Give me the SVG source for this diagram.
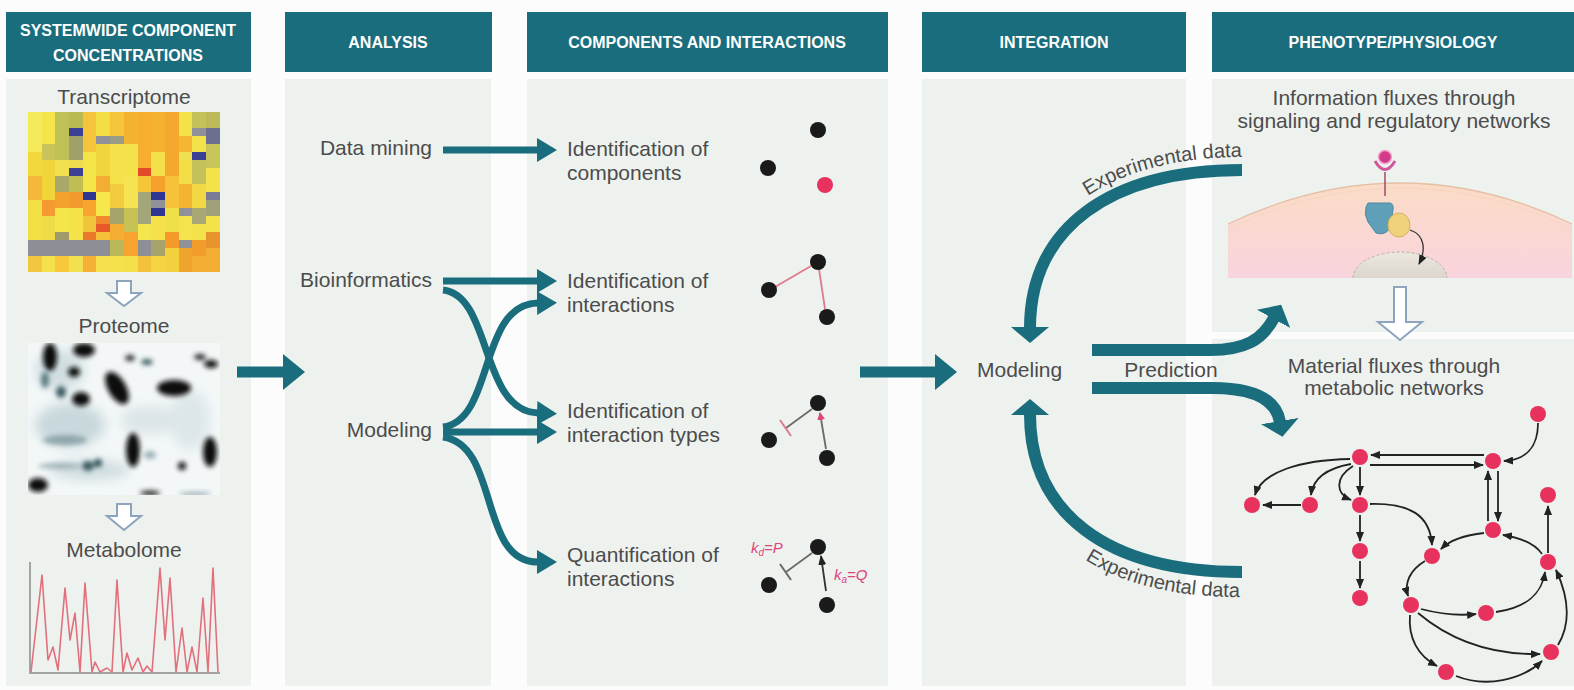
<svg xmlns="http://www.w3.org/2000/svg" width="1574" height="690" viewBox="0 0 1574 690">
<style>
.hdr{fill:#1a6d7c}
.ht{font-family:"Liberation Sans",Arial,sans-serif;font-weight:bold;font-size:16px;fill:#ffffff;text-anchor:middle}
.t{font-family:"Liberation Sans",Arial,sans-serif;font-size:21px;fill:#4c4c4c}
.tm{text-anchor:middle}
.te{text-anchor:end}
.panel{fill:#eef2ef}
.ta{fill:none;stroke:#1a6d7c;stroke-width:7;marker-end:url(#hMid)}
.tb{fill:none;stroke:#1a6d7c;stroke-width:11;marker-end:url(#hBig)}
.tc{fill:none;stroke:#1a6d7c;stroke-width:12;marker-end:url(#hArc)}
.dot{fill:#1a1a1a}
.nd{fill:#e8325e}
.ne{fill:none;stroke:#222;stroke-width:1.8;marker-end:url(#hBlk)}
.hollow{fill:#ffffff;stroke:#8ea3bd;stroke-width:2}
.pk{font-family:"Liberation Sans",Arial,sans-serif;font-size:15px;fill:#e0457a;font-style:italic}
</style>
<defs>
<marker id="hBig" viewBox="0 0 22 36" markerWidth="22" markerHeight="36" refX="1" refY="18" orient="auto" markerUnits="userSpaceOnUse"><path d="M0,0 L22,18 L0,36 Z" fill="#1a6d7c"/></marker>
<marker id="hMid" viewBox="0 0 20 24" markerWidth="20" markerHeight="24" refX="1" refY="12" orient="auto" markerUnits="userSpaceOnUse"><path d="M0,0 L20,12 L0,24 Z" fill="#1a6d7c"/></marker>
<marker id="hArc" viewBox="0 0 16 38" markerWidth="16" markerHeight="38" refX="1" refY="19" orient="auto" markerUnits="userSpaceOnUse"><path d="M0,0 L16,19 L0,38 Z" fill="#1a6d7c"/></marker>
<marker id="hBlk" viewBox="0 0 10 8" markerWidth="10" markerHeight="8" refX="9" refY="4" orient="auto" markerUnits="userSpaceOnUse"><path d="M0,0 L10,4 L0,8 Z" fill="#222"/></marker>
<marker id="hPink" viewBox="0 0 8 8" markerWidth="8" markerHeight="8" refX="7" refY="4" orient="auto" markerUnits="userSpaceOnUse"><path d="M0,0 L8,4 L0,8 Z" fill="#e0457a"/></marker>
<linearGradient id="cellg" x1="0" y1="0" x2="0" y2="1"><stop offset="0" stop-color="#fbdcc6"/><stop offset="1" stop-color="#f9d4dd"/></linearGradient>
<linearGradient id="nucg" x1="0" y1="0" x2="0" y2="1"><stop offset="0" stop-color="#ece8e0"/><stop offset="1" stop-color="#dcd6cc"/></linearGradient>
<filter id="blur" x="-20%" y="-20%" width="140%" height="140%"><feGaussianBlur stdDeviation="2.4"/></filter>
<filter id="haze" x="-20%" y="-20%" width="140%" height="140%"><feGaussianBlur stdDeviation="6"/></filter>
<clipPath id="protClip"><rect x="28" y="343" width="192" height="152"/></clipPath>
<path id="ed1" d="M1016,330 C1016,222 1105,157 1242,157"/>
<path id="ed2" d="M1012,415 C1012,530 1092,597 1240,597"/>
</defs>

<rect width="1574" height="690" fill="#fbfcfb"/>

<g id="panels">
<rect class="panel" x="6" y="79" width="245" height="607"/>
<rect class="panel" x="285" y="79" width="206" height="607"/>
<rect class="panel" x="527" y="79" width="361" height="607"/>
<rect class="panel" x="922" y="79" width="264" height="607"/>
<rect class="panel" x="1212" y="79" width="362" height="253"/>
<rect class="panel" x="1212" y="339" width="362" height="347"/>
</g>

<g id="headers">
<g id="hdr-systemwide"><rect class="hdr" x="6" y="12" width="245" height="60"/><text class="ht" x="128" y="36">SYSTEMWIDE COMPONENT</text><text class="ht" x="128" y="61">CONCENTRATIONS</text></g>
<g id="hdr-analysis"><rect class="hdr" x="285" y="12" width="207" height="60"/><text class="ht" x="388" y="48">ANALYSIS</text></g>
<g id="hdr-components"><rect class="hdr" x="527" y="12" width="361" height="60"/><text class="ht" x="707" y="48">COMPONENTS AND INTERACTIONS</text></g>
<g id="hdr-integration"><rect class="hdr" x="922" y="12" width="264" height="60"/><text class="ht" x="1054" y="48">INTEGRATION</text></g>
<g id="hdr-phenotype"><rect class="hdr" x="1212" y="12" width="362" height="60"/><text class="ht" x="1393" y="48">PHENOTYPE/PHYSIOLOGY</text></g>
</g>

<g id="transcriptome">
<text class="t tm" x="124" y="104">Transcriptome</text>
<rect x="28" y="112" width="192" height="160" fill="#f4e246"/>
<g shape-rendering="crispEdges">
<rect x="28" y="112" width="14" height="40" fill="#f5ea5a"/><rect x="28" y="152" width="14" height="24" fill="#f2d83a"/><rect x="28" y="176" width="14" height="24" fill="#f5b83a"/><rect x="28" y="200" width="14" height="40" fill="#f3e045"/><rect x="28" y="240" width="14" height="16" fill="#8e8f96"/><rect x="28" y="256" width="14" height="16" fill="#f1c640"/>
<rect x="42" y="112" width="14" height="32" fill="#f4e64a"/><rect x="42" y="144" width="14" height="16" fill="#c9c45a"/><rect x="42" y="160" width="14" height="40" fill="#f0d53a"/><rect x="42" y="200" width="14" height="16" fill="#f59a30"/><rect x="42" y="216" width="14" height="24" fill="#eedb48"/><rect x="42" y="240" width="14" height="16" fill="#8e8f96"/><rect x="42" y="256" width="14" height="16" fill="#f4e04a"/>
<rect x="55" y="112" width="14" height="48" fill="#bfc055"/><rect x="55" y="160" width="14" height="16" fill="#f2e050"/><rect x="55" y="176" width="14" height="16" fill="#a8a86a"/><rect x="55" y="192" width="14" height="16" fill="#f3a22e"/><rect x="55" y="208" width="14" height="24" fill="#f4e64a"/><rect x="55" y="232" width="14" height="8" fill="#9e9a6a"/><rect x="55" y="240" width="14" height="16" fill="#8e8f96"/><rect x="55" y="256" width="14" height="16" fill="#f7c93a"/>
<rect x="69" y="112" width="14" height="16" fill="#b9bb52"/><rect x="69" y="128" width="14" height="8" fill="#3c4094"/><rect x="69" y="136" width="14" height="24" fill="#9fa06a"/><rect x="69" y="160" width="14" height="8" fill="#eddc50"/><rect x="69" y="168" width="14" height="8" fill="#3c4094"/><rect x="69" y="176" width="14" height="16" fill="#c0bd55"/><rect x="69" y="192" width="14" height="16" fill="#f29a2b"/><rect x="69" y="208" width="14" height="32" fill="#f5e24b"/><rect x="69" y="240" width="14" height="16" fill="#8e8f96"/><rect x="69" y="256" width="14" height="16" fill="#f2e050"/>
<rect x="83" y="112" width="14" height="40" fill="#f6c43a"/><rect x="83" y="152" width="14" height="40" fill="#f3e547"/><rect x="83" y="192" width="14" height="8" fill="#2f3590"/><rect x="83" y="200" width="14" height="16" fill="#f7a52e"/><rect x="83" y="216" width="14" height="16" fill="#f0c43b"/><rect x="83" y="232" width="14" height="8" fill="#e97a2b"/><rect x="83" y="240" width="14" height="16" fill="#8e8f96"/><rect x="83" y="256" width="14" height="16" fill="#f5b035"/>
<rect x="96" y="112" width="14" height="24" fill="#f4de45"/><rect x="96" y="136" width="14" height="8" fill="#8f9098"/><rect x="96" y="144" width="14" height="32" fill="#f1d53e"/><rect x="96" y="176" width="14" height="16" fill="#f4ad33"/><rect x="96" y="192" width="14" height="24" fill="#f6e84c"/><rect x="96" y="216" width="14" height="8" fill="#f08a2c"/><rect x="96" y="224" width="14" height="8" fill="#e8572a"/><rect x="96" y="232" width="14" height="8" fill="#f5c03a"/><rect x="96" y="240" width="14" height="16" fill="#8e8f96"/><rect x="96" y="256" width="14" height="16" fill="#f6e050"/>
<rect x="110" y="112" width="14" height="24" fill="#f7c53c"/><rect x="110" y="136" width="14" height="8" fill="#9a9c86"/><rect x="110" y="144" width="14" height="40" fill="#f5e24a"/><rect x="110" y="184" width="14" height="24" fill="#f3cb3e"/><rect x="110" y="208" width="14" height="16" fill="#a6a36b"/><rect x="110" y="224" width="14" height="16" fill="#f4ad33"/><rect x="110" y="240" width="14" height="16" fill="#bbb85a"/><rect x="110" y="256" width="14" height="16" fill="#f5e24a"/>
<rect x="124" y="112" width="14" height="32" fill="#f4b233"/><rect x="124" y="144" width="14" height="32" fill="#f3e24a"/><rect x="124" y="176" width="14" height="32" fill="#f5e352"/><rect x="124" y="208" width="14" height="24" fill="#c6c256"/><rect x="124" y="232" width="14" height="24" fill="#f6a330"/><rect x="124" y="256" width="14" height="16" fill="#f3e04a"/>
<rect x="138" y="112" width="14" height="56" fill="#f7ae30"/><rect x="138" y="168" width="14" height="8" fill="#e34b28"/><rect x="138" y="176" width="14" height="16" fill="#f5c53a"/><rect x="138" y="192" width="14" height="32" fill="#a3a57a"/><rect x="138" y="224" width="14" height="16" fill="#f5e64d"/><rect x="138" y="240" width="14" height="16" fill="#8e8f96"/><rect x="138" y="256" width="14" height="16" fill="#f1c23a"/>
<rect x="151" y="112" width="14" height="40" fill="#f6b131"/><rect x="151" y="152" width="14" height="24" fill="#f3e04b"/><rect x="151" y="176" width="14" height="16" fill="#f6a02d"/><rect x="151" y="192" width="14" height="8" fill="#2f3590"/><rect x="151" y="200" width="14" height="8" fill="#8f9098"/><rect x="151" y="208" width="14" height="8" fill="#2f3590"/><rect x="151" y="216" width="14" height="24" fill="#f5e24a"/><rect x="151" y="240" width="14" height="16" fill="#a6a36b"/><rect x="151" y="256" width="14" height="16" fill="#f4d443"/>
<rect x="165" y="112" width="14" height="64" fill="#f4a82d"/><rect x="165" y="176" width="14" height="32" fill="#f5c23a"/><rect x="165" y="208" width="14" height="24" fill="#efe04a"/><rect x="165" y="232" width="14" height="16" fill="#f39a2b"/><rect x="165" y="248" width="14" height="24" fill="#f2d03e"/>
<rect x="179" y="112" width="14" height="24" fill="#f4e24b"/><rect x="179" y="136" width="14" height="16" fill="#f6b634"/><rect x="179" y="152" width="14" height="8" fill="#efe052"/><rect x="179" y="160" width="14" height="24" fill="#f3dd47"/><rect x="179" y="184" width="14" height="24" fill="#f5b334"/><rect x="179" y="208" width="14" height="8" fill="#8f9098"/><rect x="179" y="216" width="14" height="24" fill="#f4e34c"/><rect x="179" y="240" width="14" height="8" fill="#8f9098"/><rect x="179" y="248" width="14" height="24" fill="#f0a42e"/>
<rect x="192" y="112" width="14" height="16" fill="#c4c05a"/><rect x="192" y="128" width="14" height="8" fill="#8f9098"/><rect x="192" y="136" width="14" height="16" fill="#f4e24b"/><rect x="192" y="152" width="14" height="8" fill="#3c4094"/><rect x="192" y="160" width="14" height="24" fill="#c4c05a"/><rect x="192" y="184" width="14" height="24" fill="#f2d843"/><rect x="192" y="208" width="14" height="16" fill="#a8a775"/><rect x="192" y="224" width="14" height="16" fill="#f3e24a"/><rect x="192" y="240" width="14" height="16" fill="#f29c2c"/><rect x="192" y="256" width="14" height="16" fill="#f4ad33"/>
<rect x="206" y="112" width="14" height="16" fill="#bdb957"/><rect x="206" y="128" width="14" height="16" fill="#6d6f8f"/><rect x="206" y="144" width="14" height="24" fill="#c7c45a"/><rect x="206" y="168" width="14" height="24" fill="#f3e34b"/><rect x="206" y="192" width="14" height="8" fill="#7a7b94"/><rect x="206" y="200" width="14" height="16" fill="#9fa17a"/><rect x="206" y="216" width="14" height="16" fill="#f4e24b"/><rect x="206" y="232" width="14" height="16" fill="#e7922d"/><rect x="206" y="248" width="14" height="24" fill="#f4ad33"/>
</g>
<path class="hollow" d="M117,281 H131 V293 H141 L124,306 L107,293 H117 Z"/>
</g>

<g id="proteome">
<text class="t tm" x="124" y="333">Proteome</text>
<rect x="28" y="343" width="192" height="152" fill="#f3f7f8"/>
<g clip-path="url(#protClip)">
<g filter="url(#haze)">
<ellipse cx="70" cy="425" rx="35" ry="22" fill="#c9d8dc"/>
<ellipse cx="150" cy="420" rx="30" ry="14" fill="#dbe5e8"/>
<ellipse cx="90" cy="470" rx="40" ry="10" fill="#cfdde0"/>
<ellipse cx="190" cy="420" rx="20" ry="30" fill="#dde7ea"/>
<ellipse cx="60" cy="370" rx="25" ry="20" fill="#d2dfe2"/>
</g>
<g filter="url(#blur)">
<ellipse cx="65" cy="440" rx="22" ry="5" fill="#8ea6ab"/>
<ellipse cx="60" cy="466" rx="22" ry="3" fill="#a0b4b8"/>
<ellipse cx="150" cy="455" rx="6" ry="4" fill="#9ab0b4"/>
<ellipse cx="195" cy="494" rx="16" ry="2" fill="#98aab0"/>
<ellipse cx="45" cy="380" rx="4" ry="8" fill="#5a7a80"/>
<ellipse cx="61" cy="392" rx="5" ry="6" fill="#3a5a60"/>
<ellipse cx="88" cy="466" rx="6" ry="5" fill="#3a5a60"/>
<ellipse cx="98" cy="463" rx="4" ry="4" fill="#2a4a50"/>
<ellipse cx="147" cy="362" rx="6" ry="3" fill="#3a5a60"/>
<ellipse cx="50" cy="357" rx="7" ry="14" fill="#111"/>
<ellipse cx="84" cy="350" rx="11" ry="7" fill="#111"/>
<ellipse cx="74" cy="372" rx="6" ry="5" fill="#111"/>
<ellipse cx="81" cy="399" rx="9" ry="7" fill="#111"/>
<ellipse cx="117" cy="388" rx="9" ry="18" transform="rotate(-30 117 388)" fill="#111"/>
<ellipse cx="130" cy="358" rx="5" ry="3" fill="#222"/>
<ellipse cx="174" cy="388" rx="17" ry="8" fill="#111"/>
<ellipse cx="200" cy="357" rx="6" ry="3" fill="#222"/>
<ellipse cx="211" cy="364" rx="7" ry="4" fill="#111"/>
<ellipse cx="133" cy="450" rx="7" ry="17" fill="#111"/>
<ellipse cx="210" cy="452" rx="7" ry="15" fill="#111"/>
<ellipse cx="182" cy="466" rx="4" ry="4" fill="#111"/>
<ellipse cx="38" cy="485" rx="10" ry="7" fill="#111"/>
<ellipse cx="150" cy="493" rx="10" ry="2.5" fill="#222"/>
</g>
</g>
<path class="hollow" d="M117,504 H131 V516 H141 L124,530 L107,516 H117 Z"/>
</g>

<g id="metabolome">
<text class="t tm" x="124" y="557">Metabolome</text>
<path d="M30,562 V673 H220" fill="none" stroke="#8a8a8a" stroke-width="1.5"/>
<polyline fill="none" stroke="#e2707c" stroke-width="1.6" stroke-linejoin="round" points="31,672 42,575 48,660 53,647 58,670 65,588 70,640 75,613 80,672 85,583 92,672 95,662 100,672 107,668 112,672 117,580 123,672 127,653 132,670 138,658 143,672 147,666 152,672 160,568 165,640 170,578 176,672 182,628 187,672 192,647 197,672 203,598 208,672 213,568 218,672"/>
</g>

<g id="analysis">
<g id="a-datamining"><text class="t te" x="432" y="155">Data mining</text></g>
<g id="a-bioinformatics"><text class="t te" x="432" y="287">Bioinformatics</text></g>
<g id="a-modeling"><text class="t te" x="432" y="437">Modeling</text></g>
</g>

<g id="components">
<g id="c-components">
<text class="t" x="567" y="156">Identification of</text><text class="t" x="567" y="180">components</text>
<circle class="dot" cx="818" cy="130" r="8"/><circle class="dot" cx="768" cy="168" r="8"/><circle class="nd" cx="825" cy="185" r="8"/>
</g>
<g id="c-interactions">
<text class="t" x="567" y="288">Identification of</text><text class="t" x="567" y="312">interactions</text>
<line x1="775" y1="287" x2="811" y2="266" stroke="#e07a8a" stroke-width="1.8"/>
<line x1="819" y1="269" x2="825" y2="309" stroke="#e07a8a" stroke-width="1.8"/>
<circle class="dot" cx="818" cy="262" r="8"/><circle class="dot" cx="769" cy="290" r="8"/><circle class="dot" cx="827" cy="317" r="8"/>
</g>
<g id="c-types">
<text class="t" x="567" y="418">Identification of</text><text class="t" x="567" y="442">interaction types</text>
<line x1="812" y1="409" x2="786" y2="428" stroke="#6a6a6a" stroke-width="1.8"/>
<line x1="780" y1="420" x2="791" y2="436" stroke="#e07a8a" stroke-width="2"/>
<line x1="826" y1="449" x2="820" y2="413" stroke="#6a6a6a" stroke-width="1.8" marker-end="url(#hPink)"/>
<circle class="dot" cx="818" cy="403" r="8"/><circle class="dot" cx="769" cy="440" r="8"/><circle class="dot" cx="827" cy="458" r="8"/>
</g>
<g id="c-quant">
<text class="t" x="567" y="562">Quantification of</text><text class="t" x="567" y="586">interactions</text>
<line x1="812" y1="553" x2="786" y2="572" stroke="#6a6a6a" stroke-width="1.8"/>
<line x1="780" y1="564" x2="791" y2="580" stroke="#6a6a6a" stroke-width="2"/>
<line x1="826" y1="591" x2="821" y2="556" stroke="#333" stroke-width="1.8" marker-end="url(#hBlk)"/>
<text class="pk" x="751" y="553">k<tspan font-size="10" dy="3">d</tspan><tspan dy="-3">=P</tspan></text>
<text class="pk" x="834" y="580">k<tspan font-size="10" dy="3">a</tspan><tspan dy="-3">=Q</tspan></text>
<circle class="dot" cx="818" cy="547" r="8"/><circle class="dot" cx="769" cy="585" r="8"/><circle class="dot" cx="827" cy="605" r="8"/>
</g>
</g>

<g id="integration">
<g id="i-modeling"><text class="t" x="977" y="377">Modeling</text></g>
</g>

<g id="phenotype">
<g id="p-information">
<text class="t tm" x="1394" y="105">Information fluxes through</text>
<text class="t tm" x="1394" y="128">signaling and regulatory networks</text>
<path d="M1228,278 V224 Q1400,142 1572,224 V278 Z" fill="url(#cellg)"/>
<path d="M1228,224 Q1400,142 1572,224" fill="none" stroke="#e6c0a6" stroke-width="1.3"/>
<path d="M1228,229 Q1400,147 1572,229" fill="none" stroke="#f6d6c2" stroke-width="1"/>
<path d="M1353,278 A47,26 0 0 1 1447,278 Z" fill="url(#nucg)"/>
<path d="M1353,278 A47,26 0 0 1 1447,278" fill="none" stroke="#b8b2a8" stroke-width="1" stroke-dasharray="3 2"/>
<line x1="1385" y1="172" x2="1385" y2="196" stroke="#a04a68" stroke-width="1.5"/>
<path d="M1375,161 Q1385,178 1395,161" fill="none" stroke="#d0589a" stroke-width="3"/>
<circle cx="1385" cy="157" r="6.5" fill="#d23a8a" stroke="#f0a0c8" stroke-width="1.5"/>
<path d="M1368,203 L1390,203 Q1394,204 1393,210 L1390,228 Q1385,236 1376,233 L1368,222 Q1364,215 1366,207 Z" fill="#5f9fb8" stroke="#4a8aa5" stroke-width="1"/>
<ellipse cx="1399" cy="225" rx="11" ry="12" fill="#f0d27c" stroke="#d4b25a" stroke-width="1"/>
<path d="M1410,230 C1425,235 1426,250 1419,264" fill="none" stroke="#333" stroke-width="1.3" marker-end="url(#hBlk)"/>
<path class="hollow" d="M1394,287 H1406 V322 H1422 L1400,340 L1378,322 H1394 Z"/>
</g>
<g id="p-material">
<text class="t tm" x="1394" y="373">Material fluxes through</text>
<text class="t tm" x="1394" y="395">metabolic networks</text>
</g>
</g>

<g id="connectors">
<path class="tb" d="M237,372 H284"/>
<path class="tb" d="M860,372 H936"/>
<path class="ta" d="M443,150 L538,150"/>
<path class="ta" d="M443,281 L538,281"/>
<path class="ta" d="M443,290 C492,295 480,411 538,413"/>
<path class="ta" d="M443,427 C495,420 478,304 538,303"/>
<path class="ta" d="M443,432 L538,432"/>
<path class="ta" d="M443,437 C500,445 478,562 538,562"/>
<path class="tc" d="M1242,170 C1110,170 1030,228 1030,328"/>
<path class="tc" d="M1242,572 C1105,572 1030,512 1030,414"/>
<path class="tc" d="M1092,350 H1210 C1245,350 1262,340 1274,318"/>
<path class="tc" d="M1092,388 H1212 C1252,388 1276,398 1280,422"/>
<text class="t" style="font-size:20px"><textPath href="#ed1" startOffset="100%" text-anchor="end">Experimental data</textPath></text>
<text class="t" style="font-size:20px"><textPath href="#ed2" startOffset="100%" text-anchor="end">Experimental data</textPath></text>
<text class="t tm" x="1171" y="377">Prediction</text>
</g>

<g id="network-edges">
<path class="ne" d="M1484,455 L1371,455"/>
<path class="ne" d="M1370,465 L1483,465"/>
<path class="ne" d="M1538,423 C1538,448 1525,460 1504,461"/>
<path class="ne" d="M1350,459 C1300,460 1262,472 1255,495"/>
<path class="ne" d="M1351,464 C1328,468 1313,478 1311,495"/>
<path class="ne" d="M1353,466 C1334,478 1336,494 1351,500"/>
<path class="ne" d="M1360,467 L1360,495"/>
<path class="ne" d="M1301,505 L1263,505"/>
<path class="ne" d="M1360,515 L1360,541"/>
<path class="ne" d="M1360,561 L1360,588"/>
<path class="ne" d="M1370,504 C1410,503 1430,515 1432,545"/>
<path class="ne" d="M1498,471 L1498,521"/>
<path class="ne" d="M1488,521 L1488,471"/>
<path class="ne" d="M1484,533 C1465,535 1450,540 1441,549"/>
<path class="ne" d="M1542,554 C1535,544 1522,538 1503,535"/>
<path class="ne" d="M1548,553 L1548,506"/>
<path class="ne" d="M1425,561 C1410,570 1404,583 1408,596"/>
<path class="ne" d="M1421,609 C1440,614 1458,616 1476,614"/>
<path class="ne" d="M1496,612 C1525,608 1542,594 1545,572"/>
<path class="ne" d="M1418,613 C1450,640 1490,655 1540,654"/>
<path class="ne" d="M1410,615 C1408,638 1418,656 1437,666"/>
<path class="ne" d="M1456,676 C1486,688 1522,680 1542,661"/>
<path class="ne" d="M1558,645 C1570,625 1570,600 1556,570"/>
</g>

<g id="network-nodes">
<g id="nA"><circle class="nd" cx="1360" cy="457" r="8"/></g>
<g id="nB"><circle class="nd" cx="1493" cy="461" r="8"/></g>
<g id="nC"><circle class="nd" cx="1538" cy="414" r="8"/></g>
<g id="nD"><circle class="nd" cx="1252" cy="505" r="8"/></g>
<g id="nE"><circle class="nd" cx="1310" cy="505" r="8"/></g>
<g id="nF"><circle class="nd" cx="1360" cy="505" r="8"/></g>
<g id="nG"><circle class="nd" cx="1360" cy="551" r="8"/></g>
<g id="nH"><circle class="nd" cx="1360" cy="598" r="8"/></g>
<g id="nI"><circle class="nd" cx="1548" cy="495" r="8"/></g>
<g id="nJ"><circle class="nd" cx="1493" cy="530" r="8"/></g>
<g id="nK"><circle class="nd" cx="1432" cy="556" r="8"/></g>
<g id="nL"><circle class="nd" cx="1548" cy="562" r="8"/></g>
<g id="nM"><circle class="nd" cx="1411" cy="605" r="8"/></g>
<g id="nN"><circle class="nd" cx="1486" cy="613" r="8"/></g>
<g id="nO"><circle class="nd" cx="1551" cy="652" r="8"/></g>
<g id="nP"><circle class="nd" cx="1446" cy="672" r="8"/></g>
</g>
</svg>
